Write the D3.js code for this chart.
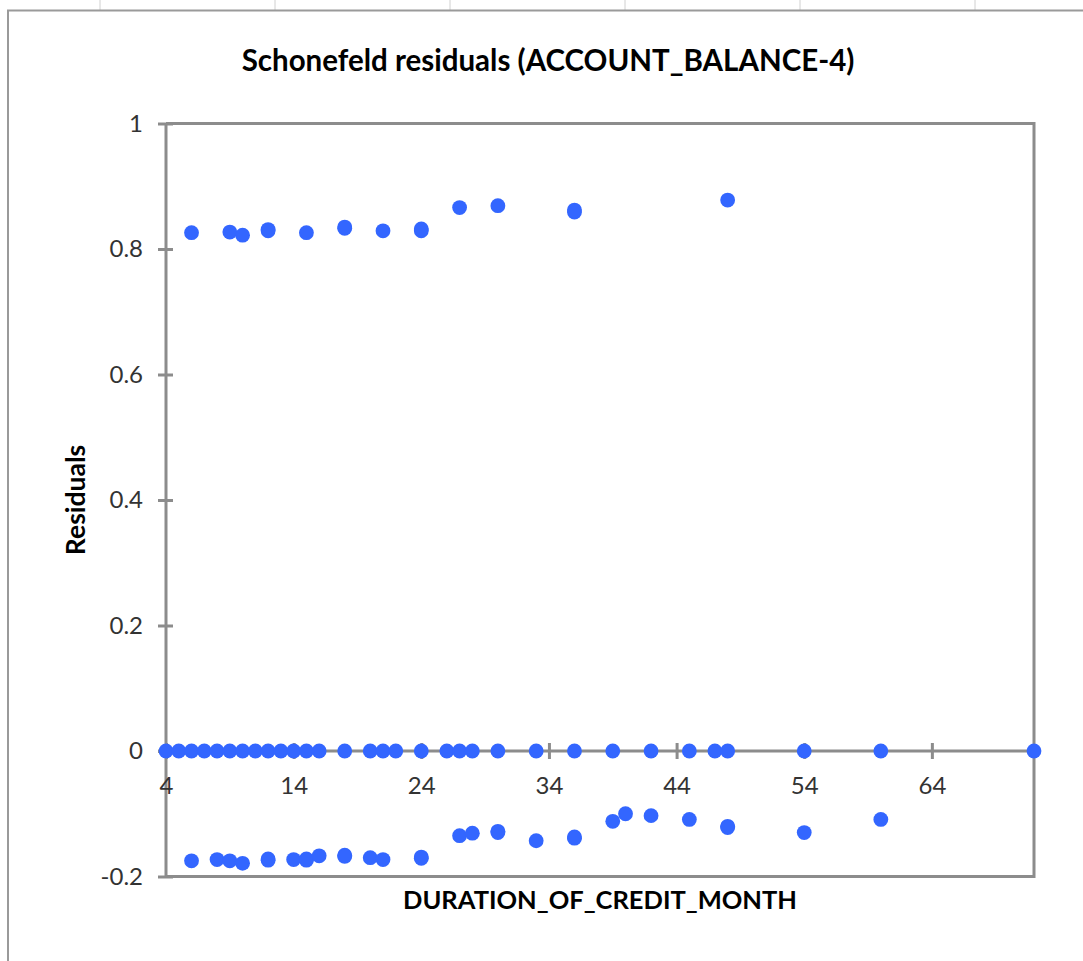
<!DOCTYPE html>
<html>
<head>
<meta charset="utf-8">
<script src="https://cdn.jsdelivr.net/npm/d3@7/dist/d3.min.js"></script>
<style>
  html, body { margin: 0; padding: 0; background: #ffffff; }
  svg { display: block; }
</style>
</head>
<body>
<svg id="chart" width="1083" height="961"></svg>
<script>
// Schoenfeld residuals for ACCOUNT_BALANCE-4 against credit duration (months)
const upperDuration = [6, 9, 10, 12, 12, 15, 18, 18, 21, 24, 24, 27, 30, 36, 36, 48];
const upperResidual = [0.826, 0.827, 0.822, 0.829, 0.831, 0.826, 0.833, 0.835, 0.829, 0.829, 0.832, 0.866, 0.869, 0.859, 0.862, 0.878];

const zeroDuration = [4, 5, 6, 7, 8, 9, 10, 11, 12, 13, 14, 15, 16, 18, 20, 21, 22, 24, 26, 27, 28, 30, 33, 36, 39, 42, 45, 47, 48, 54, 60, 72];
const zeroResidual = [0, 0, 0, 0, 0, 0, 0, 0, 0, 0, 0, 0, 0, 0, 0, 0, 0, 0, 0, 0, 0, 0, 0, 0, 0, 0, 0, 0, 0, 0, 0, 0];

const lowerDuration = [6, 8, 9, 10, 12, 12, 14, 15, 15, 16, 18, 18, 20, 21, 24, 24, 27, 28, 30, 30, 33, 36, 36, 39, 40, 42, 45, 48, 48, 54, 60];
const lowerResidual = [-0.175, -0.173, -0.175, -0.179, -0.172, -0.174, -0.173, -0.172, -0.174, -0.167, -0.166, -0.168, -0.170, -0.173, -0.169, -0.171, -0.135, -0.131, -0.128, -0.130, -0.143, -0.137, -0.139, -0.112, -0.100, -0.103, -0.109, -0.120, -0.122, -0.130, -0.109];

const xTicks = [4, 14, 24, 34, 44, 54, 64];
const yTicks = [-0.2, 0, 0.2, 0.4, 0.6, 0.8, 1];
const yTickLabels = ["-0.2", "0", "0.2", "0.4", "0.6", "0.8", "1"];
const xDomain = [4, 72];
const yDomain = [-0.2, 1];

const chartTitle = "Schonefeld residuals (ACCOUNT_BALANCE-4)";
const xTitle = "DURATION_OF_CREDIT_MONTH";
const yTitle = "Residuals";

const points = [];
upperDuration.forEach((d, i) => points.push({ x: d, y: upperResidual[i] }));
zeroDuration.forEach((d, i) => points.push({ x: d, y: zeroResidual[i] }));
lowerDuration.forEach((d, i) => points.push({ x: d, y: lowerResidual[i] }));

const svg = d3.select("#chart");
const FONT = "Lato, 'Open Sans', sans-serif";
const AXIS_GRAY = "#8c8c8c";
const MARK = "#3366ff";

const plot = { left: 166, right: 1034, top: 123.5, bottom: 876.5 };

const x = d3.scaleLinear().domain(xDomain).range([plot.left, plot.right]);
const y = d3.scaleLinear().domain(yDomain).range([plot.bottom, plot.top]);

// Spreadsheet column gridline stubs above the chart frame
svg.append("g")
  .selectAll("line")
  .data([100, 275, 450, 625, 800, 975])
  .join("line")
  .attr("x1", d => d).attr("x2", d => d)
  .attr("y1", 0).attr("y2", 10)
  .attr("stroke", "#d0d0d0").attr("stroke-width", 1);

// Chart area frame (top and left edges visible)
svg.append("path")
  .attr("d", "M8,961 L8,10.5 L1083,10.5")
  .attr("fill", "none")
  .attr("stroke", "#9a9a9a")
  .attr("stroke-width", 2);

// Title
svg.append("text")
  .attr("x", 548).attr("y", 71)
  .attr("text-anchor", "middle")
  .attr("font-family", FONT)
  .attr("font-weight", "bold")
  .attr("font-size", 29.5)
  .attr("fill", "#000")
  .text(chartTitle);

// Plot area border: top, right and bottom edges
svg.append("path")
  .attr("d", `M${plot.left},${y(1)} L${plot.right},${y(1)} L${plot.right},${y(-0.2)} L${plot.left},${y(-0.2)}`)
  .attr("fill", "none")
  .attr("stroke", AXIS_GRAY)
  .attr("stroke-width", 3);

// Y axis with crossing tick marks
const yAxis = svg.append("g")
  .attr("transform", `translate(${x(4)},0)`)
  .call(d3.axisLeft(y).tickValues(yTicks).tickSizeInner(8).tickSizeOuter(0).tickPadding(15)
    .tickFormat((d, i) => yTickLabels[i]));
yAxis.select(".domain")
  .attr("d", `M0,${y(1)}V${y(-0.2)}`)
  .attr("stroke", AXIS_GRAY).attr("stroke-width", 3);
yAxis.selectAll(".tick line")
  .attr("x1", 7)
  .attr("stroke", AXIS_GRAY).attr("stroke-width", 3);
yAxis.selectAll(".tick text")
  .attr("font-family", FONT).attr("font-size", 24).attr("fill", "#333");

// X axis at y = 0 with crossing tick marks
const xAxis = svg.append("g")
  .attr("transform", `translate(0,${y(0)})`)
  .call(d3.axisBottom(x).tickValues(xTicks).tickSizeInner(8).tickSizeOuter(0).tickPadding(18));
xAxis.select(".domain")
  .attr("d", `M${plot.left - 8},0H${plot.right}`)
  .attr("stroke", AXIS_GRAY).attr("stroke-width", 3);
xAxis.selectAll(".tick line")
  .attr("y1", -8)
  .attr("stroke", AXIS_GRAY).attr("stroke-width", 3);
xAxis.selectAll(".tick text")
  .attr("font-family", FONT).attr("font-size", 24).attr("fill", "#333");

// Axis titles
svg.append("text")
  .attr("x", 600).attr("y", 909)
  .attr("text-anchor", "middle")
  .attr("font-family", FONT).attr("font-weight", "bold").attr("font-size", 25.5)
  .attr("fill", "#000")
  .text(xTitle);

svg.append("text")
  .attr("transform", "translate(85,500) rotate(-90)")
  .attr("text-anchor", "middle")
  .attr("font-family", FONT).attr("font-weight", "bold").attr("font-size", 26.5)
  .attr("fill", "#000")
  .text(yTitle);

// Residual markers
svg.append("g")
  .selectAll("circle")
  .data(points)
  .join("circle")
  .attr("cx", d => x(d.x))
  .attr("cy", d => y(d.y))
  .attr("r", 7.4)
  .attr("fill", MARK);
</script>
</body>
</html>
